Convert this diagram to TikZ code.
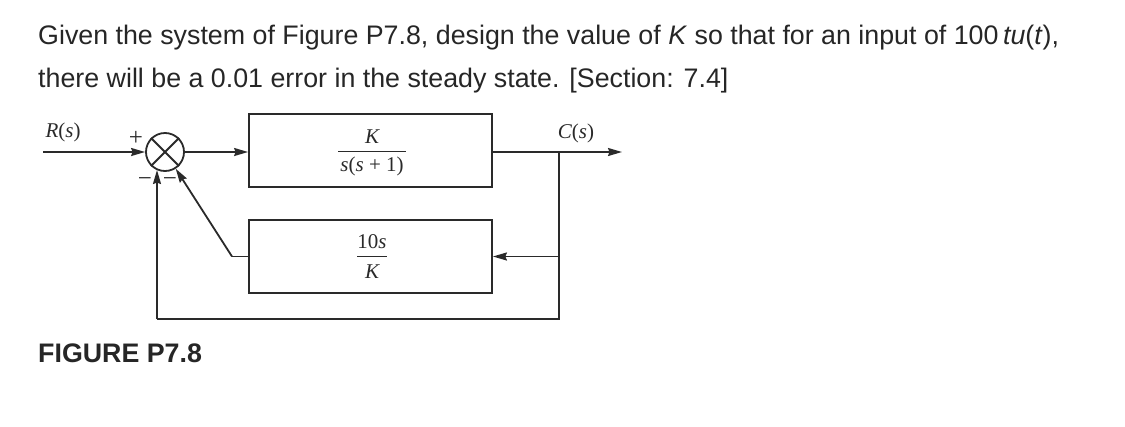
\documentclass[tikz,border=0pt]{standalone}
\usepackage{fontspec}
\setmainfont{Liberation Sans}
\newfontfamily\serif{Liberation Serif}
\usetikzlibrary{arrows.meta}
\definecolor{ink}{HTML}{2A2A2A}
\tikzset{
  wire/.style={draw=ink, line width=1.8pt},
  arr/.style={wire, -{Stealth[length=14pt,width=8pt,inset=1.5pt]}},
  blk/.style={draw=ink, line width=1.8pt, minimum width=243pt, minimum height=73pt, inner sep=0pt},
  lbl/.style={font=\serif\fontsize{21}{24}\selectfont\itshape, text=ink, inner sep=0pt},
  sgn/.style={font=\serif\fontsize{25}{27}\selectfont, text=ink, inner sep=0pt},
  body/.style={font=\fontsize{26.8}{30}\selectfont, text=black!85, anchor=base west, inner sep=0pt},
}
\begin{document}
\begin{tikzpicture}[x=1pt,y=-1pt]
\useasboundingbox (0,0) rectangle (1125,426);
% question text
\node[body] (q1) at (38,44) {Given the system of Figure P7.8, design the value of \textit{K} so that for an input of 100\,\textit{tu}(\textit{t}),};
\node[body] (q2) at (38,87) {there will be a 0.01 error in the steady state. [Section: 7.4]};
% blocks
\node[circle, draw=ink, line width=1.8pt, minimum size=38pt, inner sep=0pt] (sum) at (165,152) {};
\draw[wire] (sum.north west) -- (sum.south east) (sum.north east) -- (sum.south west);
\node[blk] (G) at (370.5,150.5) {};
\node[blk] (H) at (370.5,256.5) {};
% fractions
\node[lbl] (Gn) at (372,137) {K};
\node[lbl] (Gd) at (372,166) {s\upshape(\itshape s \upshape+ 1)};
\draw[ink, line width=1.2pt] (338,151.5) -- (406,151.5);
\node[lbl] (Hn) at (372,242) {\upshape 10\itshape s};
\node[lbl] (Hd) at (372,272) {K};
\draw[ink, line width=1.2pt] (357,256.5) -- (387,256.5);
% coordinates
\coordinate (in) at (43,152);
\coordinate (out) at (622,152);
\coordinate (br) at (559,152);
\coordinate (brH) at (559,256.5);
\coordinate (bR) at (559,319);
\coordinate (bL) at (157,319);
\coordinate (bT) at (157,170);
\coordinate (hc) at (232,256.5);
% connectors
\draw[arr] (in) -- (sum.west);
\draw[arr] (sum.east) -- (G.west |- sum.east);
\draw[arr] (G.east |- br) -- (out);
\draw[wire] (br) -- (bR) -- (bL);
\draw[arr] (bL) -- (bT);
\draw[arr] (brH) -- (H.east);
\draw[wire] (H.west) -- (hc);
\draw[arr] (hc) -- (sum);
% labels
\node[lbl] (R) at (63,132) {R\upshape(\itshape s\upshape)};
\node[lbl] (C) at (576,133) {C\upshape(\itshape s\upshape)};
\node[sgn] (plus) at (136,138) {+};
\node[sgn] (m1) at (145,182) {−};
\node[sgn] (m2) at (170,182) {−};
\node[font=\bfseries\fontsize{26.8}{30}\selectfont, text=black!85, anchor=base west, inner sep=0pt] (fig) at (38,362) {FIGURE P7.8};
\end{tikzpicture}
\end{document}
